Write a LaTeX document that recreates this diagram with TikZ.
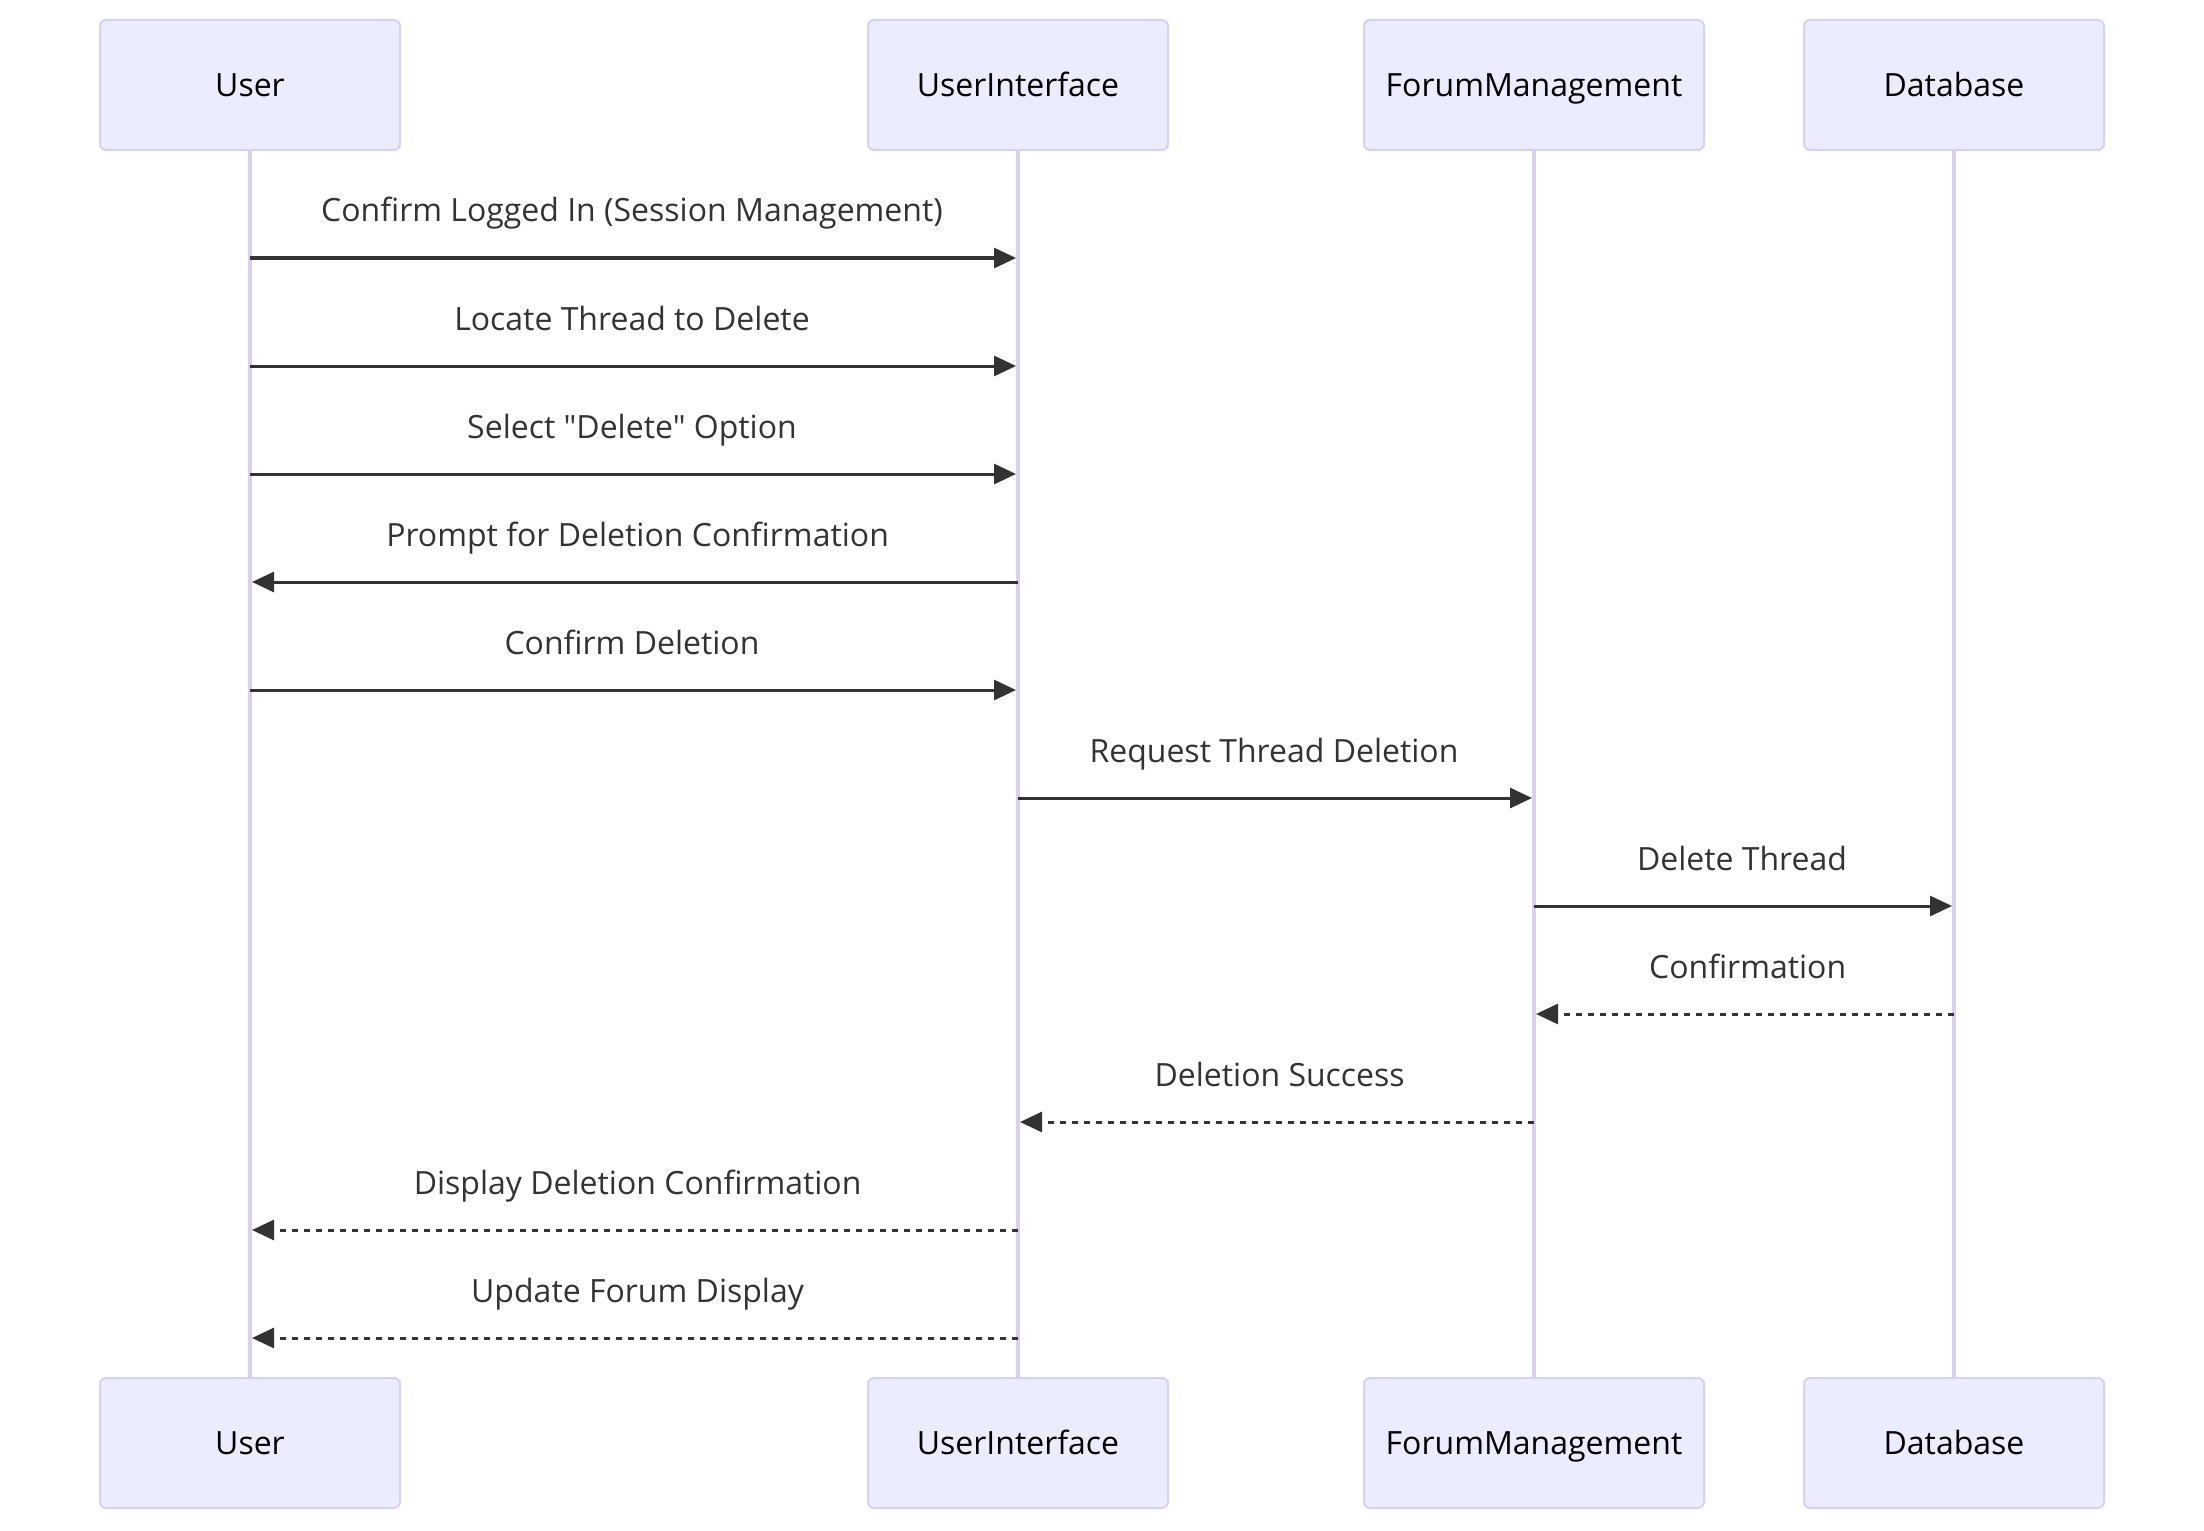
\documentclass[tikz,border=0pt]{standalone}
\usepackage{fontspec}
\setmainfont{Open Sans}[Ligatures=TeXOff]
\usepackage{xcolor}
\usetikzlibrary{positioning,arrows.meta}

\definecolor{actorfill}{HTML}{ECECFF}
\definecolor{actorline}{HTML}{DACEF3}
\definecolor{msgcol}{HTML}{333333}

\begin{document}
\begin{tikzpicture}[x=1pt, y=-1pt, node distance=0pt, outer sep=0pt,
    font=\fontsize{16pt}{19pt}\selectfont,
    actor/.style={rectangle, draw=actorline, fill=actorfill, line width=1pt,
        rounded corners=3pt, minimum width=150pt, minimum height=65pt,
        text height=11.6pt, text depth=0pt, text=black},
    lifeline/.style={draw=actorline, line width=1.8pt},
    msg/.style={draw=msgcol, line width=1.5pt, shorten >=1pt,
        -{Triangle[length=11pt, width=10pt]}},
    reply/.style={msg, dash pattern=on 3pt off 3pt},
    lblr/.style={midway, anchor=base, yshift=18pt, xshift=-1pt, text=msgcol},
    lbll/.style={midway, anchor=base, yshift=18pt, xshift=1.8pt, text=msgcol}]
    \useasboundingbox (0,0) rectangle (1102,765);

    % participants
    \node (user) [actor] at (125,42.5) {User};
    \node (ui) [actor, right=234pt of user] {UserInterface};
    \node (forum) [actor, minimum width=170pt, right=98pt of ui] {ForumManagement};
    \node (db) [actor, right=50pt of forum] {Database};

    \node (userB) [actor, below=614pt of user] {User};
    \node (uiB) [actor, below=614pt of ui] {UserInterface};
    \node (forumB) [actor, minimum width=170pt, below=614pt of forum] {ForumManagement};
    \node (dbB) [actor, below=614pt of db] {Database};

    % lifelines
    \draw[lifeline] (user) -- (userB);
    \draw[lifeline] (ui) -- (uiB);
    \draw[lifeline] (forum) -- (forumB);
    \draw[lifeline] (db) -- (dbB);

    % message rows
    \foreach \i in {1,...,11}
        \coordinate (m\i) at (0,75+54*\i);

    \draw[msg] (user |- m1) -- (ui |- m1) node[lblr] {Confirm Logged In (Session Management)};
    \draw[msg] (user |- m2) -- (ui |- m2) node[lblr] {Locate Thread to Delete};
    \draw[msg] (user |- m3) -- (ui |- m3) node[lblr] {Select "Delete" Option};
    \draw[msg] (ui |- m4) -- (user |- m4) node[lbll] {Prompt for Deletion Confirmation};
    \draw[msg] (user |- m5) -- (ui |- m5) node[lblr] {Confirm Deletion};
    \draw[msg] (ui |- m6) -- (forum |- m6) node[lblr] {Request Thread Deletion};
    \draw[msg] (forum |- m7) -- (db |- m7) node[lblr] {Delete Thread};
    \draw[reply] (db |- m8) -- (forum |- m8) node[lbll] {Confirmation};
    \draw[reply] (forum |- m9) -- (ui |- m9) node[lbll] {Deletion Success};
    \draw[reply] (ui |- m10) -- (user |- m10) node[lbll] {Display Deletion Confirmation};
    \draw[reply] (ui |- m11) -- (user |- m11) node[lbll] {Update Forum Display};
\end{tikzpicture}
\end{document}
